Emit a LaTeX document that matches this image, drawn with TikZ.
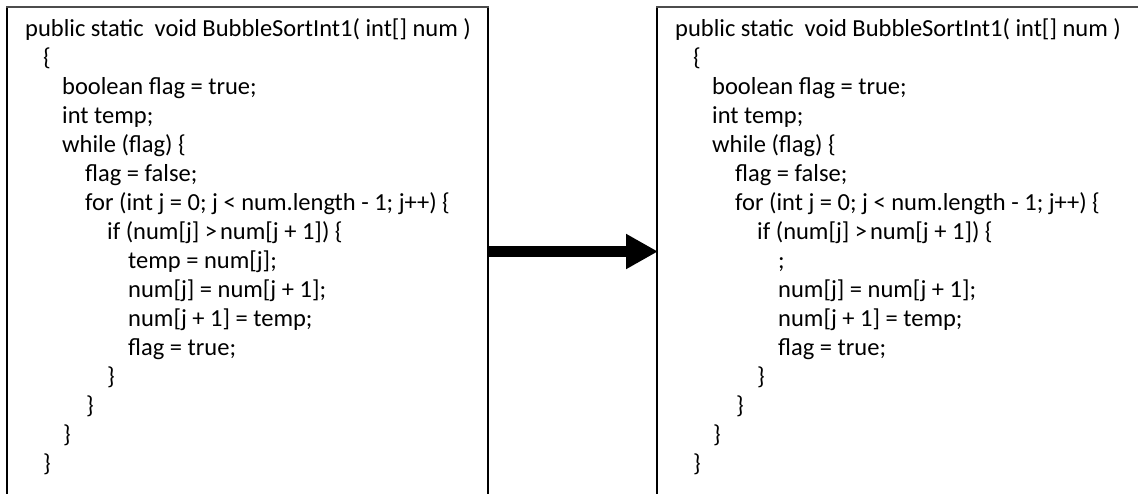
\documentclass[tikz,border=0pt]{standalone}
\usepackage{fontspec}
\setmainfont{Carlito}
\usetikzlibrary{arrows.meta}

% One listing of the bubble sort method; #1 prefixes node names,
% #2 is the first statement inside the if block.
\newcommand\sortlisting[2]{%
  \node[codeline] (#1-1)  at (25,36.7)  {public static\ \ void BubbleSortInt1( int[] num )};
  \node[codeline] (#1-2)  at (43,65.7)  {\{};
  \node[codeline] (#1-3)  at (62,94.7)  {boolean flag = true;};
  \node[codeline] (#1-4)  at (62,123.7) {int temp;};
  \node[codeline] (#1-5)  at (62,152.7) {while (flag) \{};
  \node[codeline] (#1-6)  at (85,181.7) {flag = false;};
  \node[codeline] (#1-7)  at (85,210.7) {for (int j = 0; j < num.length - 1; j++) \{};
  \node[codeline] (#1-8)  at (107,239.7) {if (num[j] >\hspace{0.12em}num[j + 1]) \{};
  \node[codeline] (#1-9)  at (128,268.7) {#2};
  \node[codeline] (#1-10) at (128,297.7) {num[j] = num[j + 1];};
  \node[codeline] (#1-11) at (128,326.7) {num[j + 1] = temp;};
  \node[codeline] (#1-12) at (128,355.7) {flag = true;};
  \node[codeline] (#1-13) at (107,384.7) {\}};
  \node[codeline] (#1-14) at (86,413.7)  {\}};
  \node[codeline] (#1-15) at (63,442.7)  {\}};
  \node[codeline] (#1-16) at (43,471.7)  {\}};
}

\begin{document}
\begin{tikzpicture}[x=1pt,y=-1pt,
  codeline/.style={anchor=base west, inner sep=0pt,
    font=\fontsize{24.5}{29}\selectfont},
  frameside/.style={draw=black, line width=1.2pt},
  frametop/.style={draw=black!70, line width=2pt},
  bigarrow/.style={draw=black, line width=11pt,
    -{Triangle[length=32pt,width=33pt]}}]
\useasboundingbox (0,0) rectangle (1138,494);

% left frame (open at the bottom)
\draw[frameside] (7,494) -- (7,7);
\draw[frameside] (488,7) -- (488,494);
\draw[frametop] (6.4,7) -- (488.6,7);

% right frame (open at the bottom, running off the right side)
\draw[frameside] (657,494) -- (657,7);
\draw[frametop] (656.4,7) -- (1140,7);

% original method
\sortlisting{orig}{temp = num[j];}

% method with the first swap statement removed
\begin{scope}[xshift=650pt]
  \sortlisting{mut}{;}
\end{scope}

% arrow between the frames
\coordinate (leftframe) at (488,251.5);
\coordinate (rightframe) at (658,251.5);
\draw[bigarrow] (leftframe) -- (rightframe);
\end{tikzpicture}
\end{document}
